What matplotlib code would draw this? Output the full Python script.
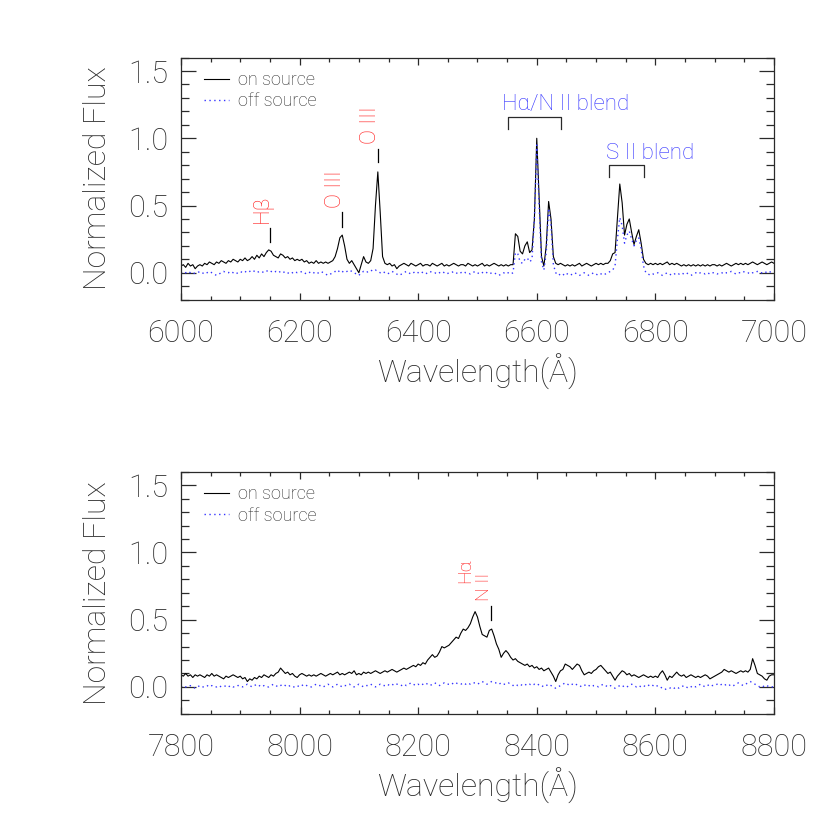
import numpy as np
import matplotlib
matplotlib.use("Agg")
import matplotlib.pyplot as plt
from matplotlib.ticker import MultipleLocator, FormatStrFormatter

plt.rcParams['font.family'] = ['Roboto', 'DejaVu Sans']
plt.rcParams['font.weight'] = 'light'

# spectra sampled every 4 A
top_start = 6000
bottom_start = 7800
step = 4

top_on = [
    0.05, 0.06, 0.04, 0.07, 0.05, 0.06, 0.03, 0.05, 0.06, 0.05, 0.07, 0.06, 0.08, 0.07, 0.06, 0.08, 0.07, 0.09, 0.08, 0.07, 0.09, 0.08, 0.10, 0.09, 0.08,
    0.10, 0.09, 0.11, 0.09, 0.10, 0.12, 0.10, 0.13, 0.11, 0.14, 0.12, 0.15, 0.17, 0.16, 0.13, 0.12, 0.11, 0.14, 0.13, 0.11, 0.12, 0.10, 0.11, 0.09, 0.10,
    0.09, 0.10, 0.08, 0.09, 0.07, 0.08, 0.07, 0.09, 0.07, 0.08, 0.07, 0.08, 0.07, 0.08, 0.09, 0.12, 0.18, 0.26, 0.28, 0.20, 0.10, 0.07, 0.09, 0.06, 0.03,
    0.00, 0.06, 0.12, 0.08, 0.07, 0.09, 0.18, 0.50, 0.75, 0.45, 0.12, 0.07, 0.06, 0.07, 0.05, 0.06, 0.03, 0.05, 0.06, 0.07, 0.06, 0.05, 0.07, 0.06, 0.05,
    0.06, 0.07, 0.05, 0.06, 0.06, 0.05, 0.07, 0.06, 0.05, 0.06, 0.07, 0.05, 0.06, 0.05, 0.06, 0.07, 0.06, 0.05, 0.06, 0.06, 0.05, 0.07, 0.06, 0.05, 0.06,
    0.05, 0.06, 0.07, 0.05, 0.06, 0.05, 0.06, 0.07, 0.06, 0.05, 0.06, 0.05, 0.06, 0.05, 0.06, 0.06, 0.29, 0.27, 0.16, 0.14, 0.20, 0.23, 0.15, 0.17, 0.40,
    1.00, 0.55, 0.12, 0.05, 0.20, 0.53, 0.40, 0.12, 0.07, 0.06, 0.07, 0.06, 0.05, 0.06, 0.05, 0.06, 0.05, 0.06, 0.07, 0.05, 0.06, 0.07, 0.06, 0.05, 0.06,
    0.07, 0.06, 0.07, 0.06, 0.07, 0.07, 0.09, 0.14, 0.15, 0.40, 0.66, 0.52, 0.28, 0.36, 0.40, 0.30, 0.21, 0.27, 0.32, 0.22, 0.10, 0.07, 0.06, 0.07, 0.06,
    0.07, 0.06, 0.07, 0.06, 0.07, 0.08, 0.06, 0.07, 0.06, 0.07, 0.06, 0.05, 0.06, 0.05, 0.06, 0.05, 0.06, 0.05, 0.06, 0.05, 0.06, 0.05, 0.06, 0.05, 0.06,
    0.06, 0.05, 0.06, 0.05, 0.06, 0.07, 0.06, 0.05, 0.06, 0.07, 0.06, 0.07, 0.06, 0.07, 0.06, 0.07, 0.08, 0.07, 0.06, 0.07, 0.08, 0.07, 0.06, 0.07, 0.08, 0.07,
]

top_off = [
    0.00, -0.01, 0.00, 0.01, 0.00, -0.01, 0.00, 0.00, 0.01, 0.00, -0.01, 0.00, 0.01, 0.00, -0.01, -0.02, -0.01, 0.00, 0.01, 0.00, 0.00, 0.01, 0.00, -0.01, 0.00,
    0.01, 0.00, 0.01, 0.00, 0.01, 0.02, 0.01, 0.00, 0.01, 0.01, 0.00, 0.01, 0.02, 0.01, 0.00, 0.01, 0.00, 0.01, 0.00, 0.01, 0.00, -0.01, 0.00, 0.01, 0.00,
    0.00, 0.01, 0.00, -0.01, 0.00, 0.01, 0.00, -0.01, 0.00, 0.01, 0.00, -0.01, -0.02, -0.01, 0.00, 0.01, 0.00, 0.02, 0.01, 0.00, 0.01, 0.02, 0.01, 0.00, -0.01,
    -0.02, 0.00, 0.01, 0.00, 0.01, 0.02, 0.01, 0.02, 0.01, 0.00, 0.01, 0.00, -0.01, 0.00, 0.01, 0.00, -0.01, -0.02, -0.01, 0.00, 0.01, 0.00, -0.01, 0.00, 0.01,
    0.00, 0.01, 0.00, -0.01, 0.00, 0.01, 0.00, 0.00, -0.01, 0.00, 0.01, 0.00, -0.01, 0.00, 0.00, 0.01, 0.00, -0.01, 0.00, 0.01, 0.00, 0.00, -0.01, 0.00, 0.01,
    0.00, -0.01, 0.00, 0.01, 0.00, -0.01, 0.00, 0.00, -0.01, -0.02, -0.01, 0.00, -0.01, 0.00, -0.01, 0.00, 0.15, 0.14, 0.08, 0.07, 0.10, 0.11, 0.08, 0.10, 0.40,
    0.95, 0.50, 0.08, 0.02, 0.15, 0.48, 0.36, 0.06, 0.00, -0.02, -0.01, -0.02, 0.00, -0.01, -0.02, -0.01, 0.00, -0.01, -0.02, -0.01, 0.00, -0.01, -0.02, -0.01, 0.00,
    -0.01, -0.02, -0.01, 0.00, -0.01, 0.00, 0.01, 0.02, 0.05, 0.25, 0.41, 0.35, 0.22, 0.28, 0.31, 0.25, 0.20, 0.24, 0.26, 0.18, 0.05, 0.00, -0.01, -0.02, -0.01,
    -0.01, 0.00, -0.01, -0.02, -0.01, 0.00, -0.01, -0.02, -0.01, 0.00, -0.01, 0.00, -0.01, 0.00, -0.01, -0.02, -0.01, 0.00, -0.01, 0.00, 0.00, -0.01, 0.00, -0.01, 0.00,
    0.00, -0.01, 0.00, 0.00, -0.01, 0.00, 0.00, 0.01, 0.00, -0.01, 0.00, 0.00, 0.01, 0.00, 0.00, -0.01, 0.00, 0.00, 0.01, 0.00, 0.00, 0.01, 0.00, 0.01, 0.00, 0.00,
]

bottom_on = [
    0.09, 0.08, 0.10, 0.08, 0.09, 0.07, 0.09, 0.08, 0.09, 0.08, 0.07, 0.09, 0.08, 0.10, 0.08, 0.09, 0.08, 0.07, 0.06, 0.08, 0.07, 0.08, 0.09, 0.08, 0.07,
    0.08, 0.06, 0.07, 0.04, 0.06, 0.05, 0.07, 0.06, 0.08, 0.07, 0.09, 0.08, 0.07, 0.09, 0.08, 0.10, 0.11, 0.14, 0.12, 0.10, 0.11, 0.09, 0.10, 0.08, 0.07,
    0.09, 0.10, 0.09, 0.08, 0.09, 0.08, 0.09, 0.08, 0.09, 0.10, 0.09, 0.08, 0.09, 0.10, 0.09, 0.10, 0.11, 0.09, 0.10, 0.09, 0.10, 0.11, 0.10, 0.12, 0.09,
    0.10, 0.09, 0.11, 0.10, 0.11, 0.10, 0.11, 0.12, 0.11, 0.10, 0.11, 0.12, 0.11, 0.12, 0.13, 0.12, 0.11, 0.12, 0.13, 0.14, 0.13, 0.14, 0.15, 0.16, 0.15,
    0.17, 0.16, 0.18, 0.17, 0.20, 0.22, 0.24, 0.22, 0.23, 0.26, 0.30, 0.29, 0.30, 0.31, 0.33, 0.35, 0.37, 0.36, 0.40, 0.43, 0.42, 0.44, 0.47, 0.52, 0.56,
    0.52, 0.45, 0.39, 0.38, 0.37, 0.42, 0.43, 0.38, 0.32, 0.28, 0.22, 0.25, 0.27, 0.25, 0.22, 0.20, 0.21, 0.19, 0.18, 0.17, 0.16, 0.17, 0.15, 0.16, 0.14,
    0.15, 0.13, 0.14, 0.12, 0.13, 0.14, 0.11, 0.08, 0.04, 0.09, 0.12, 0.13, 0.17, 0.16, 0.15, 0.13, 0.15, 0.17, 0.16, 0.12, 0.09, 0.10, 0.11, 0.10, 0.12,
    0.13, 0.15, 0.16, 0.14, 0.12, 0.10, 0.11, 0.08, 0.05, 0.08, 0.10, 0.12, 0.11, 0.09, 0.10, 0.08, 0.09, 0.08, 0.07, 0.08, 0.09, 0.08, 0.07, 0.08, 0.07,
    0.08, 0.07, 0.10, 0.12, 0.09, 0.05, 0.08, 0.07, 0.09, 0.11, 0.09, 0.08, 0.09, 0.07, 0.08, 0.09, 0.08, 0.07, 0.08, 0.07, 0.08, 0.09, 0.08, 0.06, 0.07,
    0.08, 0.09, 0.10, 0.11, 0.13, 0.12, 0.11, 0.12, 0.11, 0.10, 0.11, 0.12, 0.11, 0.12, 0.11, 0.13, 0.21, 0.16, 0.10, 0.09, 0.08, 0.06, 0.05, 0.08, 0.09, 0.09,
]

bottom_off = [
    0.00, 0.01, 0.00, 0.00, 0.01, 0.00, -0.01, 0.00, 0.01, 0.00, 0.00, 0.01, 0.00, 0.01, 0.00, 0.00, 0.01, 0.00, 0.00, 0.01, 0.00, 0.01, 0.00, 0.00, 0.01,
    0.01, 0.00, 0.01, 0.02, 0.01, 0.00, 0.01, 0.02, 0.01, 0.00, 0.01, 0.00, 0.00, 0.01, 0.02, 0.01, 0.00, 0.01, 0.02, 0.01, 0.00, 0.01, 0.00, 0.00, 0.01,
    0.00, 0.01, 0.02, 0.01, 0.00, 0.00, 0.01, 0.02, 0.01, 0.01, 0.00, 0.01, 0.02, 0.01, 0.00, 0.01, 0.02, 0.01, 0.00, 0.01, 0.01, 0.02, 0.01, 0.00, 0.01,
    0.02, 0.01, 0.00, 0.01, 0.01, 0.02, 0.01, 0.00, 0.01, 0.02, 0.01, 0.01, 0.02, 0.01, 0.02, 0.01, 0.02, 0.02, 0.01, 0.02, 0.01, 0.02, 0.03, 0.02, 0.01,
    0.02, 0.01, 0.02, 0.03, 0.02, 0.01, 0.02, 0.03, 0.02, 0.01, 0.02, 0.03, 0.02, 0.02, 0.03, 0.02, 0.03, 0.02, 0.02, 0.03, 0.02, 0.03, 0.02, 0.03, 0.03,
    0.02, 0.03, 0.04, 0.03, 0.02, 0.03, 0.04, 0.03, 0.03, 0.02, 0.03, 0.02, 0.02, 0.03, 0.02, 0.01, 0.02, 0.01, 0.02, 0.01, 0.02, 0.01, 0.02, 0.01, 0.02,
    0.01, 0.02, 0.01, 0.00, 0.01, 0.02, 0.01, 0.00, -0.01, 0.00, 0.01, 0.02, 0.03, 0.02, 0.01, 0.02, 0.01, 0.02, 0.01, 0.00, 0.01, 0.02, 0.01, 0.00, 0.01,
    0.01, 0.00, 0.01, 0.02, 0.01, 0.00, 0.01, 0.00, -0.01, 0.00, 0.01, 0.00, 0.01, 0.00, 0.01, 0.02, 0.01, 0.00, 0.01, 0.00, 0.01, 0.00, 0.01, 0.02, 0.01,
    0.00, 0.01, 0.00, -0.01, -0.02, -0.01, -0.01, 0.00, -0.01, 0.00, -0.01, 0.00, 0.01, 0.00, -0.01, 0.00, 0.01, 0.00, 0.01, 0.02, 0.01, 0.00, 0.01, 0.02, 0.01,
    0.01, 0.02, 0.01, 0.02, 0.01, 0.02, 0.01, 0.02, 0.01, 0.02, 0.03, 0.02, 0.01, 0.02, 0.03, 0.04, 0.03, 0.02, 0.01, 0.00, 0.01, 0.00, 0.01, 0.00, 0.00, 0.00,
]

# line identifications: (label, text x, text bottom y, tick x, tick y0, tick y1)
top_lines = [
    ("H\u03b2", 6138, 0.37, 6150, 0.23, 0.33),
    ("O III", 6260, 0.48, 6272, 0.34, 0.45),
    ("O III", 6320, 0.955, 6333, 0.82, 0.92),
]
bottom_labels = [("H\u03b1", 8280, 0.77), ("N II", 8311, 0.64)]
bottom_tick = (8322, 0.50, 0.60)

# blend brackets: (label, text x, text y, x0, x1, top, bottom)
blends = [
    ("H\u03b1/N II blend", 6648, 1.25, 6551, 6641, 1.16, 1.07),
    ("S II blend", 6791, 0.89, 6722, 6781, 0.80, 0.71),
]

red = '#ff1a1a'
blue = '#3434ff'
dark = '#2a2a2a'


def style_axes(ax, x0, x1):
    ax.set_xlim(x0, x1)
    ax.set_ylim(-0.2, 1.6)
    ax.xaxis.set_major_locator(MultipleLocator(200))
    ax.xaxis.set_minor_locator(MultipleLocator(50))
    ax.yaxis.set_major_locator(MultipleLocator(0.5))
    ax.yaxis.set_minor_locator(MultipleLocator(0.1))
    ax.yaxis.set_major_formatter(FormatStrFormatter('%.1f'))
    ax.tick_params(axis='both', which='both', direction='in', top=True, right=True,
                   color=dark, width=0.9, labelcolor=dark, labelsize=22)
    ax.tick_params(axis='x', which='major', length=5, pad=14)
    ax.tick_params(axis='x', which='minor', length=3)
    ax.tick_params(axis='y', which='major', length=11, pad=9)
    ax.tick_params(axis='y', which='minor', length=6)
    for sp in ax.spines.values():
        sp.set_color(dark)
        sp.set_linewidth(0.9)
    ax.set_xlabel('Wavelength(\u00c5)', fontsize=23, fontweight='light', color=dark, labelpad=4)
    ax.set_ylabel('Normalized Flux', fontsize=23, fontweight='light', color=dark, labelpad=12)


fig = plt.figure(figsize=(8.3, 8.3), dpi=100)
ax1 = fig.add_axes([0.218, 0.639, 0.7145, 0.2916])
ax2 = fig.add_axes([0.218, 0.140, 0.7145, 0.2916])

for ax, start, on, off, x0, x1 in [(ax1, top_start, top_on, top_off, 6000, 7000),
                                    (ax2, bottom_start, bottom_on, bottom_off, 7800, 8800)]:
    w_on = start + step * np.arange(len(on))
    w_off = start + step * np.arange(len(off))
    ax.plot(w_on, on, color='black', lw=0.8, label='on source')
    ax.plot(w_off, off, color=blue, lw=1.0, ls=(0, (1, 2.5)), label='off source')
    style_axes(ax, x0, x1)
    leg = ax.legend(loc='upper left', bbox_to_anchor=(0.02, 0.99), frameon=False,
                    prop={'size': 13, 'weight': 'light'}, handlelength=1.4,
                    handletextpad=0.5, labelspacing=0.2, borderaxespad=0.2)
    for t in leg.get_texts():
        t.set_color(dark)

for label, tx, ty, lx, ly0, ly1 in top_lines:
    ax1.text(tx, ty, label, rotation=90, ha='center', va='bottom', color=red, fontsize=16)
    ax1.plot([lx, lx], [ly0, ly1], color='black', lw=0.9)

for label, tx, ty, x0, x1, yt, yb in blends:
    ax1.text(tx, ty, label, ha='center', va='center', color=blue, fontsize=16)
    ax1.plot([x0, x0, x1, x1], [yb, yt, yt, yb], color=dark, lw=0.9)

for label, tx, ty in bottom_labels:
    ax2.text(tx, ty, label, rotation=90, ha='center', va='bottom', color=red, fontsize=14)
ax2.plot([bottom_tick[0], bottom_tick[0]], [bottom_tick[1], bottom_tick[2]], color='black', lw=0.9)

fig.savefig('out.png', dpi=100, facecolor='white')
